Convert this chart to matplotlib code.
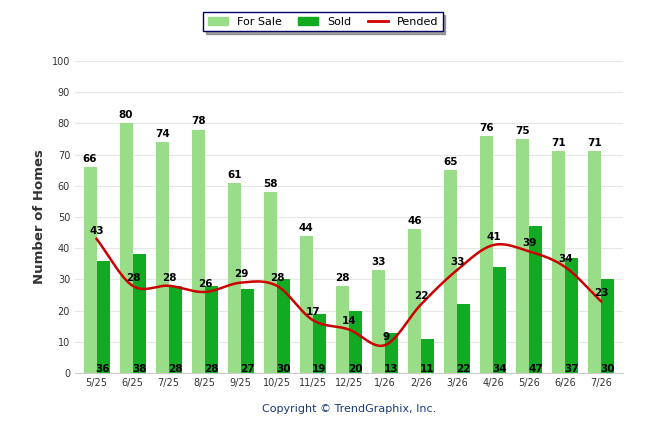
import numpy as np
import matplotlib.pyplot as plt
from matplotlib.patches import Patch
from matplotlib.lines import Line2D

months = ['5/25', '6/25', '7/25', '8/25', '9/25', '10/25', '11/25', '12/25',
          '1/26', '2/26', '3/26', '4/26', '5/26', '6/26', '7/26']
for_sale = [66, 80, 74, 78, 61, 58, 44, 28, 33, 46, 65, 76, 75, 71, 71]
sold = [36, 38, 28, 28, 27, 30, 19, 20, 13, 11, 22, 34, 47, 37, 30]
pended = [43, 28, 28, 26, 29, 28, 17, 14, 9, 22, 33, 41, 39, 34, 23]

LIGHT = '#99dd88'
DARK = '#11aa22'
RED = '#cc0000'


def smooth(xs, ys, n=20):
    # Catmull-Rom spline through the points, for the curved line only
    xs = np.asarray(xs, float)
    ys = np.asarray(ys, float)
    px = np.concatenate([[2 * xs[0] - xs[1]], xs, [2 * xs[-1] - xs[-2]]])
    py = np.concatenate([[2 * ys[0] - ys[1]], ys, [2 * ys[-1] - ys[-2]]])
    ox, oy = [], []
    for i in range(1, len(px) - 2):
        t = np.linspace(0, 1, n, endpoint=False)
        for p, o in ((px, ox), (py, oy)):
            p0, p1, p2, p3 = p[i - 1], p[i], p[i + 1], p[i + 2]
            o.extend(0.5 * (2 * p1 + (-p0 + p2) * t + (2 * p0 - 5 * p1 + 4 * p2 - p3) * t ** 2
                            + (-p0 + 3 * p1 - 3 * p2 + p3) * t ** 3))
    ox.append(xs[-1])
    oy.append(ys[-1])
    return ox, oy


fig = plt.figure(figsize=(6.46, 4.34), dpi=100)
ax = fig.add_axes([0.116, 0.14, 0.848, 0.72])

x = np.arange(len(months))
w = 0.36
ax.bar(x - w / 2, for_sale, w, color=LIGHT, zorder=2)
ax.bar(x + w / 2, sold, w, color=DARK, zorder=2)
sx, sy = smooth(x, pended)
ax.plot(sx, sy, color=RED, lw=1.8, zorder=3)

for i in range(len(x)):
    ax.text(x[i] - w / 2, for_sale[i] + 1, str(for_sale[i]), ha='center', va='bottom',
            fontsize=7.5, fontweight='bold', zorder=4)
    ax.text(x[i] + w / 2, 1.5, str(sold[i]), ha='center', va='center',
            fontsize=7.5, fontweight='bold', zorder=4)
    ax.text(x[i] + 0.02, pended[i] + 1, str(pended[i]), ha='center', va='bottom',
            fontsize=7.5, fontweight='bold', zorder=4)

ax.set_xlim(-0.6, len(x) - 0.4)
ax.set_ylim(0, 100)
ax.set_yticks(range(0, 101, 10))
ax.set_xticks(x)
ax.set_xticklabels(months)
ax.tick_params(labelsize=7, length=0, colors='#333333')
ax.grid(axis='y', color='#e6e6e6', lw=0.8, zorder=0)
for s in ['top', 'right', 'left']:
    ax.spines[s].set_visible(False)
ax.spines['bottom'].set_color('#cccccc')
ax.set_ylabel('Number of Homes', fontsize=9.5, fontweight='bold', color='#333333')

handles = [Patch(color=LIGHT, label='For Sale'), Patch(color=DARK, label='Sold'),
           Line2D([0], [0], color=RED, lw=2, label='Pended')]
leg = fig.legend(handles=handles, loc='upper center', bbox_to_anchor=(0.5, 0.985), ncol=3,
                 fontsize=8, frameon=True, fancybox=False, shadow=True, edgecolor='#000066',
                 handlelength=1.8, columnspacing=1.5)
fig.text(0.54, 0.05, 'Copyright © TrendGraphix, Inc.', ha='center', fontsize=8, color='#1a3a7a')

fig.savefig('out.png', dpi=100)
